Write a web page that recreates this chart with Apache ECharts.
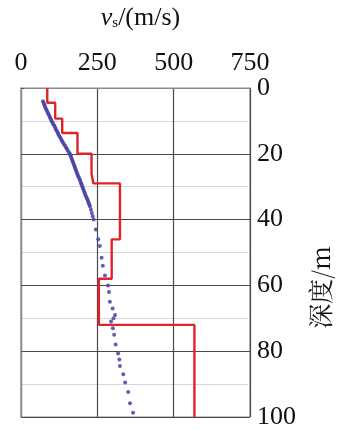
<!DOCTYPE html>
<html>
<head>
<meta charset="utf-8">
<script src="https://cdn.jsdelivr.net/npm/echarts@6/dist/echarts.min.js"></script>
<style>
  html, body { margin: 0; padding: 0; background: #fff; }
  #chart { width: 337px; height: 430px; }
</style>
</head>
<body>
<div id="chart"></div>
<script>
// Layered shear-wave velocity model (step profile)
const layerTop    = [0,   4.5, 9.3, 13.7, 20,  26,  29,  46,  58,  72];
const layerBottom = [4.5, 9.3, 13.7, 20,  26,  29,  46,  58,  72,  100];
const layerVs     = [86,  112, 135, 185,  231, 237, 324, 297, 255, 568];

// Measured shear-wave velocity points
const pointDepth = [
  4, 4.5, 5, 5.5, 6, 6.5, 7, 7.5, 8, 8.5, 9, 9.5, 10, 10.5, 11, 11.5, 12, 12.5,
  13, 13.5, 14, 14.5, 15, 15.5, 16, 16.5, 17, 17.5, 18, 18.5, 19, 19.5, 20, 20.5,
  21, 21.5, 22, 22.5, 23, 23.5, 24, 24.5, 25, 25.5, 26, 26.5, 27, 27.5, 28, 28.5,
  29, 29.5, 30, 30.5, 31, 31.5, 32, 32.5, 33, 33.5, 34, 34.5, 35, 35.5, 36, 37,
  38, 39, 40, 43, 46, 48, 51.6, 54, 57, 60, 62, 65, 67, 69, 70, 71, 73, 75, 78,
  80.7, 82.5, 84.5, 87, 89.5, 92.4, 95.8, 98.7];
const pointVs = [
  72, 74, 76, 78, 80, 83, 85, 88, 90, 93, 95, 98, 100, 103, 106, 109, 112, 114,
  117, 120, 122, 125, 128, 131, 134, 137, 140, 144, 147, 150, 153, 157, 160, 162,
  164, 166, 168, 170, 172, 174, 176, 178, 180, 182, 184, 186, 188, 191, 193, 195,
  197, 199, 201, 203, 205, 207, 209, 211, 213, 216, 218, 220, 222, 224, 226, 229,
  232, 235, 238, 245, 253, 258, 264, 268, 275, 285, 288, 291, 300, 308, 303, 295, 301, 305, 310,
  318, 322, 324, 335, 341, 351, 357, 367];

const xTicks = [0, 250, 500, 750];
const yTicks = [0, 20, 40, 60, 80, 100];

// Corner points of the step profile
const stepLine = [];
layerVs.forEach((v, i) => {
  stepLine.push([v, layerTop[i]]);
  stepLine.push([v, layerBottom[i]]);
});
const scatterPts = pointDepth.map((d, i) => [pointVs[i], d]);

const serif = '"Liberation Serif", "Times New Roman", serif';
const chart = echarts.init(document.getElementById('chart'), null, { renderer: 'canvas' });

chart.setOption({
  animation: false,
  backgroundColor: '#fff',
  grid: {
    left: 21, right: 87, top: 83, bottom: 4,
    show: true, borderColor: '#8a8a8a', borderWidth: 1.2, backgroundColor: 'transparent'
  },
  xAxis: {
    type: 'value',
    position: 'top',
    min: xTicks[0], max: xTicks[xTicks.length - 1], interval: 250,
    name: '{i|v}{s|s}{n|/(m/s)}',
    nameLocation: 'middle',
    nameGap: 57,
    nameTextStyle: {
      padding: [0, 0, 0, 10],
      rich: {
        i: { fontFamily: serif, fontStyle: 'italic', fontSize: 26, color: '#111' },
        s: { fontFamily: serif, fontSize: 15, color: '#111', padding: [10, 0, 0, 0] },
        n: { fontFamily: serif, fontSize: 26, color: '#111' }
      }
    },
    axisLine: { show: true, lineStyle: { color: '#8a8a8a', width: 1.2 } },
    axisTick: { show: false },
    axisLabel: { fontFamily: serif, fontSize: 26, color: '#111', margin: 12 },
    splitLine: { show: true, lineStyle: { color: '#4a4a4a', width: 1.2 } }
  },
  yAxis: {
    type: 'value',
    position: 'right',
    inverse: true,
    min: yTicks[0], max: yTicks[yTicks.length - 1], interval: 20,
    axisLine: { show: true, lineStyle: { color: '#8a8a8a', width: 1.2 } },
    axisTick: { show: true, length: 3, lineStyle: { color: '#555' } },
    axisLabel: { fontFamily: serif, fontSize: 26, color: '#111', margin: 7 },
    splitLine: { show: true, lineStyle: { color: '#4a4a4a', width: 1.2 } },
    minorTick: { show: false, splitNumber: 2 },
    minorSplitLine: { show: true, lineStyle: { color: '#d8d8d8', width: 1 } }
  },
  graphic: [{
    type: 'text',
    left: 308, top: 246,
    rotation: Math.PI / 2,
    style: {
      text: '深度/m',
      font: '25px "Noto Serif CJK SC", "Noto Sans CJK SC", ' + serif,
      fill: '#111'
    }
  }],
  series: [
    {
      type: 'scatter',
      data: scatterPts,
      symbolSize: 4,
      itemStyle: { color: '#4642a3', opacity: 0.85 },
      z: 3
    },
    {
      type: 'line',
      data: stepLine,
      showSymbol: false,
      lineStyle: { color: '#e0232b', width: 2.4 },
      z: 2
    }
  ]
});
</script>
</body>
</html>
